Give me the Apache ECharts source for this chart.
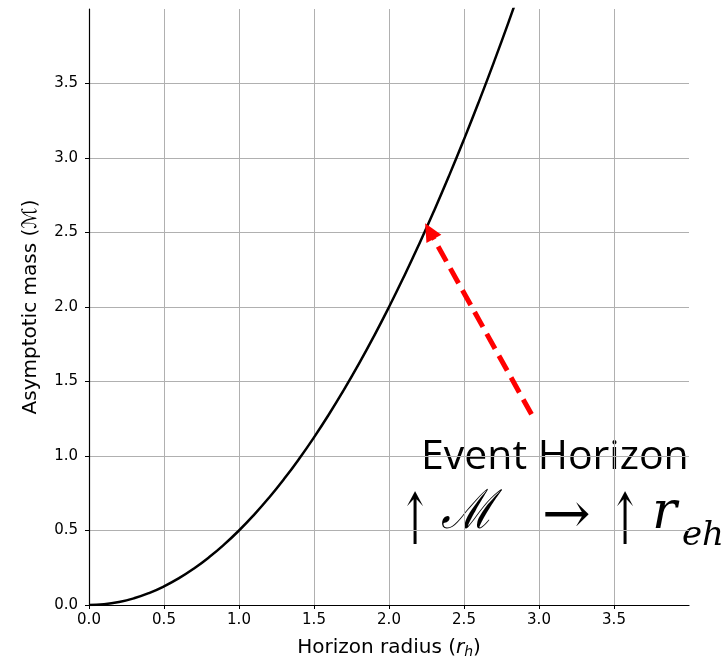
<!DOCTYPE html>
<html><head><meta charset="utf-8">
<script src="https://cdn.jsdelivr.net/npm/echarts@6/dist/echarts.min.js"></script>
<style>html,body{margin:0;padding:0;background:#fff}#c{width:727px;height:664px}</style>
</head><body><div id="c"></div>
<script>
// Horizon radius values (x) and asymptotic mass (y)
const radius = [0,0.1,0.2,0.3,0.4,0.5,0.6,0.7,0.8,0.9,1.0,1.1,1.2,1.3,1.4,1.5,1.6,1.7,1.8,1.9,2.0,2.1,2.2,2.3,2.4,2.5,2.6,2.7,2.8,2.9];
const mass   = [0,0.005,0.02,0.045,0.08,0.125,0.18,0.245,0.32,0.405,0.5,0.605,0.72,0.845,0.98,1.125,1.28,1.445,1.62,1.805,2.0,2.205,2.42,2.645,2.88,3.125,3.38,3.645,3.92,4.205];
// annotation arrow: tail -> head (data coords)
const arrowTail = [2.95, 1.28];
const arrowHead = [2.27, 2.51];
const tickFont = 'DejaVu Sans';

const chart = echarts.init(document.getElementById('c'), null, {renderer:'canvas'});
const axisCommon = {
  type:'value', min:0, max:4, interval:0.5,
  axisLine:{show:true,onZero:false,lineStyle:{color:'#000',width:1.2}},
  axisTick:{show:true,length:4,lineStyle:{color:'#000'}},
  splitLine:{show:true,showMaxLine:false,lineStyle:{color:'#b0b0b0',width:1}}
};
chart.setOption({
  animation:false,
  backgroundColor:'#fff',
  grid:{left:89,right:38,top:9,bottom:55},
  xAxis:Object.assign({}, axisCommon, {
    name:'{n|Horizon radius (}{i|r}{s|h}{n|)}', nameLocation:'middle', nameGap:31,
    nameTextStyle:{rich:{
      n:{fontFamily:tickFont,fontSize:20,color:'#000'},
      i:{fontFamily:tickFont,fontSize:20,fontStyle:'italic',color:'#000'},
      s:{fontFamily:tickFont,fontSize:14,fontStyle:'italic',color:'#000',padding:[9,0,0,0]}
    }},
    axisLabel:{fontFamily:tickFont,fontSize:15,color:'#000',margin:8,showMaxLabel:false,formatter:v=>v.toFixed(1)}
  }),
  yAxis:Object.assign({}, axisCommon, {
    name:'Asymptotic mass (ℳ)', nameLocation:'middle', nameGap:48,
    nameTextStyle:{fontFamily:tickFont,fontSize:20,color:'#000'},
    axisLabel:{fontFamily:tickFont,fontSize:15,color:'#000',margin:11,showMaxLabel:false,formatter:v=>v.toFixed(1)}
  }),
  series:[{
    type:'line', data:radius.map((r,i)=>[r,mass[i]]), showSymbol:false, smooth:true, clip:true,
    lineStyle:{color:'#000',width:2.5},
    markLine:{
      silent:true, symbol:['none','triangle'], symbolSize:[17,18],
      label:{show:false},
      lineStyle:{color:'#ff0000',width:5,type:[17,8]},
      data:[[{coord:arrowTail},{coord:arrowHead}]]
    }
  }],
  graphic:[
    {type:'text', left:421, top:437, style:{text:'Event Horizon', font:'41px "Open Sans"', fill:'#000'}},
    {type:'text', x:399, y:526, scaleX:0.54, style:{text:'↑', font:'71px "DejaVu Serif"', fill:'#000', verticalAlign:'middle'}},
    {type:'text', x:441, y:514, scaleX:0.85, style:{text:'ℳ', font:'italic 54px "DejaVu Serif"', fill:'#000', verticalAlign:'middle'}},
    {type:'text', x:542, y:518, style:{text:'→', font:'58px "DejaVu Serif"', fill:'#000', verticalAlign:'middle'}},
    {type:'text', x:609, y:526, scaleX:0.54, style:{text:'↑', font:'71px "DejaVu Serif"', fill:'#000', verticalAlign:'middle'}},
    {type:'text', x:652, y:514, style:{text:'r', font:'italic 52px "DejaVu Serif"', fill:'#000', verticalAlign:'middle'}},
    {type:'text', x:682, y:536, style:{text:'eh', font:'italic 34px "DejaVu Serif"', fill:'#000', verticalAlign:'middle'}}
  ]
});
</script></body></html>
